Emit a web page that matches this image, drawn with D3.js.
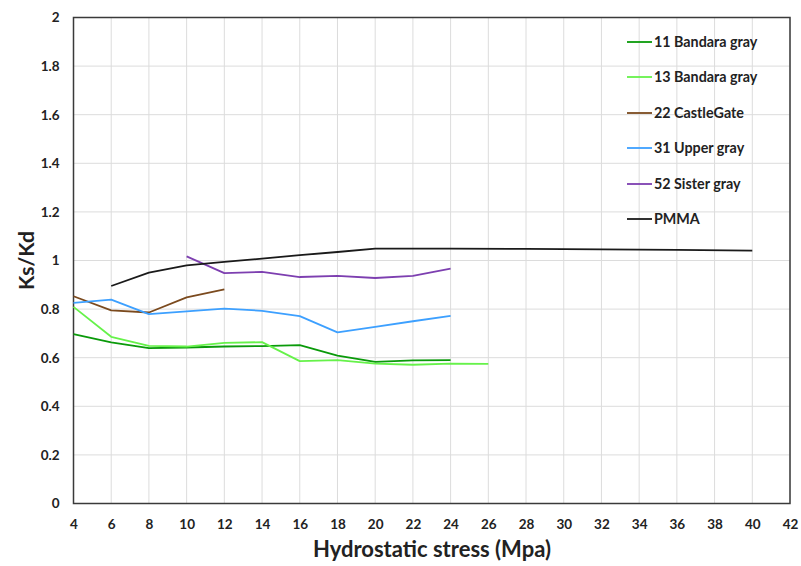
<!DOCTYPE html>
<html>
<head>
<meta charset="utf-8">
<script src="https://cdn.jsdelivr.net/npm/d3@7"></script>
<style>
  html, body { margin: 0; padding: 0; background: #fff; }
  svg text { font-family: Lato, "Open Sans", "Liberation Sans", sans-serif; font-weight: bold; fill: #222; }
</style>
</head>
<body>
<svg id="chart" width="801" height="566"></svg>
<script>
// Stress levels (MPa) and Ks/Kd ratios for each sample
const xTicks = [4, 6, 8, 10, 12, 14, 16, 18, 20, 22, 24, 26, 28, 30, 32, 34, 36, 38, 40, 42];
const yTicks = [0, 0.2, 0.4, 0.6, 0.8, 1, 1.2, 1.4, 1.6, 1.8, 2];

const bandara11X = [4, 6, 8, 10, 12, 14, 16, 18, 20, 22, 24];
const bandara11Y = [0.697, 0.663, 0.639, 0.642, 0.646, 0.648, 0.652, 0.609, 0.583, 0.589, 0.590];

const bandara13X = [4, 6, 8, 10, 12, 14, 16, 18, 20, 22, 24, 26];
const bandara13Y = [0.809, 0.686, 0.649, 0.646, 0.661, 0.664, 0.586, 0.590, 0.576, 0.571, 0.576, 0.575];

const castleGateX = [4, 6, 8, 10, 12];
const castleGateY = [0.853, 0.795, 0.786, 0.848, 0.881];

const upperGrayX = [4, 6, 8, 10, 12, 14, 16, 18, 20, 22, 24];
const upperGrayY = [0.826, 0.839, 0.779, 0.791, 0.802, 0.793, 0.771, 0.704, 0.727, 0.750, 0.772];

const sisterGrayX = [10, 12, 14, 16, 18, 20, 22, 24];
const sisterGrayY = [1.017, 0.948, 0.953, 0.932, 0.937, 0.928, 0.937, 0.967];

const pmmaX = [6, 8, 10, 12, 14, 16, 18, 20, 24, 28, 32, 36, 40];
const pmmaY = [0.895, 0.950, 0.980, 0.994, 1.008, 1.022, 1.035, 1.049, 1.049, 1.048, 1.046, 1.044, 1.041];

const seriesNames = ["11 Bandara gray", "13 Bandara gray", "22 CastleGate", "31 Upper gray", "52 Sister gray", "PMMA"];
const seriesColors = ["#0a9a0a", "#66f24a", "#7b4a1e", "#3da0ff", "#7d3fb0", "#1a1a1a"];
const seriesX = [bandara11X, bandara13X, castleGateX, upperGrayX, sisterGrayX, pmmaX];
const seriesY = [bandara11Y, bandara13Y, castleGateY, upperGrayY, sisterGrayY, pmmaY];

const svg = d3.select("#chart");
const plot = { left: 73.5, right: 790, top: 17.5, bottom: 503.5 };

const x = d3.scaleLinear().domain([4, 42]).range([plot.left, plot.right]);
const y = d3.scaleLinear().domain([0, 2]).range([plot.bottom, plot.top]);

// Gridlines
svg.append("g")
  .selectAll("line")
  .data(xTicks)
  .join("line")
  .attr("x1", d => x(d)).attr("x2", d => x(d))
  .attr("y1", plot.top).attr("y2", plot.bottom)
  .attr("stroke", "#dcdcdc").attr("stroke-width", 1);

svg.append("g")
  .selectAll("line")
  .data(yTicks)
  .join("line")
  .attr("x1", plot.left).attr("x2", plot.right)
  .attr("y1", d => y(d)).attr("y2", d => y(d))
  .attr("stroke", "#dcdcdc").attr("stroke-width", 1);

// Axes (tick labels only; the frame is drawn separately)
const xAxis = svg.append("g")
  .attr("transform", `translate(0,${plot.bottom})`)
  .call(d3.axisBottom(x).tickValues(xTicks).tickSize(0).tickPadding(16).tickFormat(d3.format("d")));
xAxis.select(".domain").remove();
xAxis.selectAll("text").attr("font-size", 13.5).style("font-family", "Lato, sans-serif").style("font-weight", "bold").attr("fill", "#222");

const yAxis = svg.append("g")
  .attr("transform", `translate(${plot.left},0)`)
  .call(d3.axisLeft(y).tickValues(yTicks).tickSize(0).tickPadding(14).tickFormat(d => d3.format("")(+d.toFixed(1))));
yAxis.select(".domain").remove();
yAxis.selectAll("text").attr("font-size", 13.5).style("font-family", "Lato, sans-serif").style("font-weight", "bold").attr("fill", "#222");

// Plot frame
svg.append("rect")
  .attr("x", plot.left).attr("y", plot.top)
  .attr("width", plot.right - plot.left).attr("height", plot.bottom - plot.top)
  .attr("fill", "none").attr("stroke", "#3a3a3a").attr("stroke-width", 1.5);

// Series lines
const line = d3.line().x(d => x(d[0])).y(d => y(d[1]));
seriesNames.forEach((name, i) => {
  const pts = seriesX[i].map((v, j) => [v, seriesY[i][j]]);
  svg.append("path")
    .datum(pts)
    .attr("d", line)
    .attr("fill", "none")
    .attr("stroke", seriesColors[i])
    .attr("stroke-width", 1.8)
    .attr("stroke-linejoin", "round");
});

// Legend
const legendRows = [42, 77, 113, 148, 184, 219];
const legend = svg.append("g");
seriesNames.forEach((name, i) => {
  const g = legend.append("g").attr("transform", `translate(627,${legendRows[i]})`);
  g.append("line").attr("x1", 0).attr("x2", 25).attr("y1", 0).attr("y2", 0)
    .attr("stroke", seriesColors[i]).attr("stroke-width", 1.8);
  g.append("text").attr("x", 27).attr("y", 0).attr("dy", "0.35em")
    .attr("font-size", 14.3).text(name);
});

// Axis titles
svg.append("text")
  .attr("x", 432).attr("y", 557)
  .attr("text-anchor", "middle").attr("font-size", 22)
  .text("Hydrostatic stress (Mpa)");

svg.append("text")
  .attr("transform", `translate(34,${(plot.top + plot.bottom) / 2}) rotate(-90)`)
  .attr("text-anchor", "middle").attr("font-size", 21)
  .text("Ks/Kd");
</script>
</body>
</html>
